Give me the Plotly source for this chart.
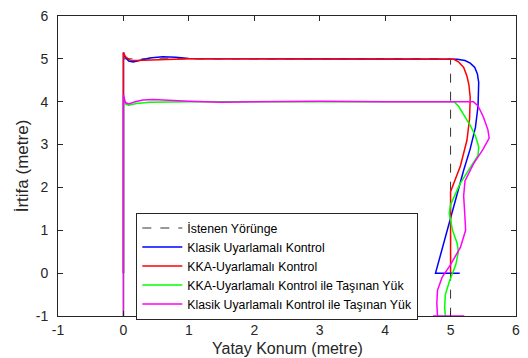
import plotly.graph_objects as go

# Desired trajectory
ref_x = [0, 5, 5]
ref_y = [5, 5, -1]

# Classic adaptive control
klasik_x = [0, 0, 0.02, 0.08, 0.15, 0.25, 0.4, 0.6, 0.8, 1.0, 1.3, 2, 3, 4, 4.9,
            5.1, 5.22, 5.3, 5.37, 5.41, 5.43, 5.43, 5.42, 5.38, 5.3, 5.2, 4.77, 5.14]
klasik_y = [0, 5.15, 5.05, 4.95, 4.93, 4.96, 5.02, 5.05, 5.04, 5.01, 5.0, 5.0, 5.0, 5.0, 5.0,
            4.99, 4.96, 4.9, 4.8, 4.65, 4.45, 4.2, 3.9, 3.4, 2.9, 2.4, 0, 0]

# KKA adaptive control
kka_x = [0, 0, 0.03, 0.1, 0.2, 0.35, 0.6, 1, 2, 3, 4, 4.9, 5.05, 5.12, 5.2, 5.25,
         5.28, 5.3, 5.29, 5.25, 5.15, 5.0, 5.0]
kka_y = [0, 5.15, 5.05, 4.97, 4.96, 4.97, 4.99, 5.0, 5.0, 5.0, 5.0, 5.0, 4.99, 4.93, 4.8, 4.6,
         4.4, 4.1, 3.6, 3.1, 2.5, 1.9, 0]

# KKA adaptive control with payload
kka_yuk_x = [0, 0, 0.03, 0.08, 0.2, 0.4, 1, 2, 3, 4, 4.9, 5.05, 5.12, 5.2, 5.3, 5.38,
             5.43, 5.42, 5.32, 5.15, 5.0, 4.98, 5.03, 5.1, 5.12, 5.08, 4.98, 4.92, 4.91, 4.92]
kka_yuk_y = [-1, 4.12, 3.95, 3.92, 3.96, 3.99, 4.0, 4.0, 4.0, 4.0, 4.0, 4.0, 3.9, 3.7, 3.45, 3.2,
             2.95, 2.75, 2.5, 2.1, 1.6, 1.4, 1.0, 0.7, 0.5, 0.2, -0.2, -0.5, -0.8, -1]

# Classic adaptive control with payload
klasik_yuk_x = [0, 0, 0.03, 0.08, 0.18, 0.3, 0.45, 0.7, 1, 1.5, 2, 3, 4, 5.2, 5.35, 5.42,
                5.5, 5.57, 5.59, 5.5, 5.35, 5.22, 5.2, 5.22, 5.23, 5.15, 5.0, 4.87, 4.8,
                4.79, 4.8, 4.73, 5.21]
klasik_yuk_y = [-1, 4.16, 3.98, 3.95, 4.0, 4.04, 4.05, 4.03, 4.01, 3.99, 4.0, 4.01, 4.0, 4.0,
                4.0, 3.9, 3.65, 3.35, 3.15, 2.9, 2.55, 2.15, 1.8, 1.3, 1.0, 0.6, 0.2, -0.1,
                -0.4, -0.7, -1, -1, -1]

x_ticks = [-1, 0, 1, 2, 3, 4, 5, 6]
y_ticks = [-1, 0, 1, 2, 3, 4, 5, 6]
x_tick_text = ["-1", "0", "1", "2", "3", "4", "5", "6"]
y_tick_text = ["-1", "0", "1", "2", "3", "4", "5", "6"]

FONT = "Liberation Sans, Arial, sans-serif"
AX = "#262626"
LW = 1.5

fig = go.Figure()
fig.add_trace(go.Scatter(x=ref_x, y=ref_y, mode="lines", name="İstenen Yörünge",
                         line=dict(color="#333333", width=1, dash="dash")))
fig.add_trace(go.Scatter(x=klasik_x, y=klasik_y, mode="lines", name="Klasik Uyarlamalı Kontrol",
                         line=dict(color="#0000ff", width=LW)))
fig.add_trace(go.Scatter(x=kka_x, y=kka_y, mode="lines", name="KKA-Uyarlamalı Kontrol",
                         line=dict(color="#ff0000", width=LW)))
fig.add_trace(go.Scatter(x=kka_yuk_x, y=kka_yuk_y, mode="lines",
                         name="KKA-Uyarlamalı Kontrol ile Taşınan Yük",
                         line=dict(color="#00ff00", width=LW)))
fig.add_trace(go.Scatter(x=klasik_yuk_x, y=klasik_yuk_y, mode="lines",
                         name="Klasik Uyarlamalı Kontrol ile Taşınan Yük",
                         line=dict(color="#ff00ff", width=LW)))

axis_common = dict(showgrid=False, zeroline=False, showline=True, linecolor=AX, linewidth=1,
                   mirror="ticks", ticks="inside", ticklen=5, tickcolor=AX,
                   tickfont=dict(family=FONT, size=14, color=AX))

fig.update_layout(
    width=528, height=358,
    margin=dict(l=58, r=8, t=8, b=42),
    paper_bgcolor="white", plot_bgcolor="white",
    font=dict(family=FONT, color=AX),
    xaxis=dict(range=[-1, 6], tickvals=x_ticks, ticktext=x_tick_text,
               ticklabelstandoff=1, **axis_common),
    yaxis=dict(range=[-1, 6], tickvals=y_ticks, ticktext=y_tick_text,
               ticklabelstandoff=6,
               title=dict(text="İrtifa (metre)", font=dict(size=17, color=AX), standoff=2),
               **axis_common),
    legend=dict(x=0.171, y=0.345, xanchor="left", yanchor="top",
                bgcolor="white", bordercolor=AX, borderwidth=1,
                font=dict(family=FONT, size=12.3, color="#000000"),
                tracegroupgap=0, itemwidth=40),
    showlegend=True,
    annotations=[dict(text="Yatay Konum (metre)", xref="paper", yref="paper",
                      x=0.5, y=0, xanchor="center", yanchor="middle", yshift=-32,
                      borderpad=0, showarrow=False,
                      font=dict(family=FONT, size=16, color=AX))],
)

fig.write_html("out.html")
